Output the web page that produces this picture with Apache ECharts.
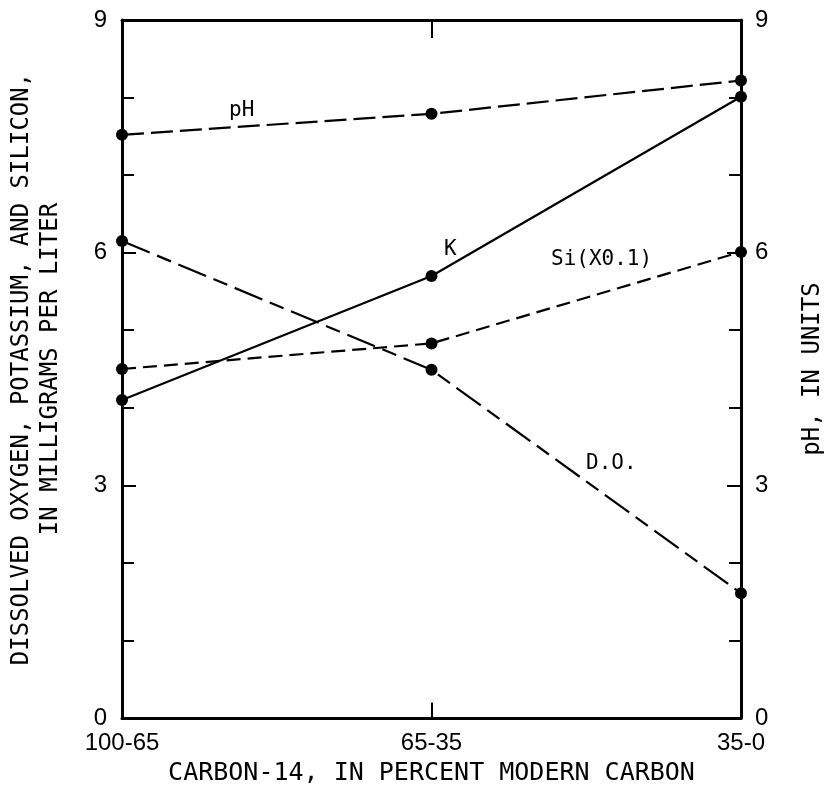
<!DOCTYPE html>
<html>
<head>
<meta charset="utf-8">
<script src="https://cdn.jsdelivr.net/npm/echarts@6/dist/echarts.min.js"></script>
<style>
  html, body { margin: 0; padding: 0; background: #fff; }
  #chart { width: 827px; height: 786px; }
</style>
</head>
<body>
<div id="chart"></div>
<script>
// categories (carbon-14 ranges)
const categories = ['100-65', '65-35', '35-0']
// values
const phValues = [7.52, 7.79, 8.22]
const kValues = [4.10, 5.70, 8.01]
const siValues = [4.50, 4.83, 6.01]   // silicon x 0.1
const doValues = [6.15, 4.49, 1.61]
const yTicks = { min: 0, max: 9, interval: 3 }

const chart = echarts.init(document.getElementById('chart'))

const monoFont = '"DejaVu Sans Mono", "Liberation Mono", monospace'
const tickFont = '"Liberation Sans", Arial, sans-serif'
const axisLine = { show: true, onZero: false, lineStyle: { color: '#000', width: 3 } }

function yAxis(pos, name, gap, lh, margin) {
  return {
    type: 'value',
    position: pos,
    min: yTicks.min,
    max: yTicks.max,
    interval: yTicks.interval,
    name: name,
    nameLocation: 'middle',
    nameGap: gap,
    nameTextStyle: { fontFamily: monoFont, fontSize: 24, color: '#000', lineHeight: lh },
    axisLine: axisLine,
    axisTick: { show: true, inside: true, length: 14, lineStyle: { color: '#000', width: 2 } },
    minorTick: { show: true, splitNumber: 3, length: 12, lineStyle: { color: '#000', width: 2 } },
    axisLabel: { color: '#000', fontFamily: tickFont, fontSize: 24, margin: margin },
    splitLine: { show: false }
  }
}

// points with lines; dash patterns from the figure
function series(name, data, axisIdx, dash) {
  return {
    name: name,
    type: 'line',
    yAxisIndex: axisIdx,
    data: data,
    symbol: 'circle',
    symbolSize: 12,
    itemStyle: { color: '#000' },
    lineStyle: { color: '#000', width: 2.2, type: dash },
    z: 3
  }
}

const kSeries = series('K', kValues, 0, 'solid')
// short tick on the bottom frame at the middle category
kSeries.markLine = {
  silent: true,
  symbol: 'none',
  label: { show: false },
  lineStyle: { color: '#000', width: 2, type: 'solid' },
  data: [[{ coord: [1, 0] }, { coord: [1, 0.2] }]]
}

chart.setOption({
  animation: false,
  grid: { left: 122, right: 86, top: 20, bottom: 68, outerBoundsMode: 'none' },
  xAxis: [
    {
      type: 'category',
      data: categories,
      boundaryGap: false,
      position: 'bottom',
      name: 'CARBON-14, IN PERCENT MODERN CARBON',
      nameLocation: 'middle',
      nameGap: 43,
      nameTextStyle: { fontFamily: monoFont, fontSize: 25, color: '#000' },
      axisLine: axisLine,
      axisTick: { show: false },
      axisLabel: { color: '#000', fontFamily: tickFont, fontSize: 24, margin: 13, interval: 0 }
    },
    {
      type: 'category',
      data: categories,
      boundaryGap: false,
      position: 'top',
      axisLine: axisLine,
      axisTick: { show: true, inside: true, interval: 0, length: 18, lineStyle: { color: '#000', width: 2 } },
      axisLabel: { show: false }
    }
  ],
  yAxis: [
    yAxis('left', 'DISSOLVED OXYGEN, POTASSIUM, AND SILICON,\nIN MILLIGRAMS PER LITER', 57, 29, 15),
    yAxis('right', 'pH, IN UNITS', 60, 24, 14)
  ],
  series: [
    series('pH', phValues, 1, [22, 7]),
    kSeries,
    series('Si', siValues, 0, [14, 7]),
    series('D.O.', doValues, 0, [30, 8, 15, 8])
  ],
  graphic: [
    { type: 'text', left: 229, top: 100, style: { text: 'pH', font: '21px ' + monoFont, fill: '#000' } },
    { type: 'text', left: 444, top: 239, style: { text: 'K', font: '21px ' + monoFont, fill: '#000' } },
    { type: 'text', left: 551, top: 249, style: { text: 'Si(X0.1)', font: '21px ' + monoFont, fill: '#000' } },
    { type: 'text', left: 586, top: 453, style: { text: 'D.O.', font: '21px ' + monoFont, fill: '#000' } }
  ]
})

window.addEventListener('resize', () => chart.resize())
</script>
</body>
</html>
